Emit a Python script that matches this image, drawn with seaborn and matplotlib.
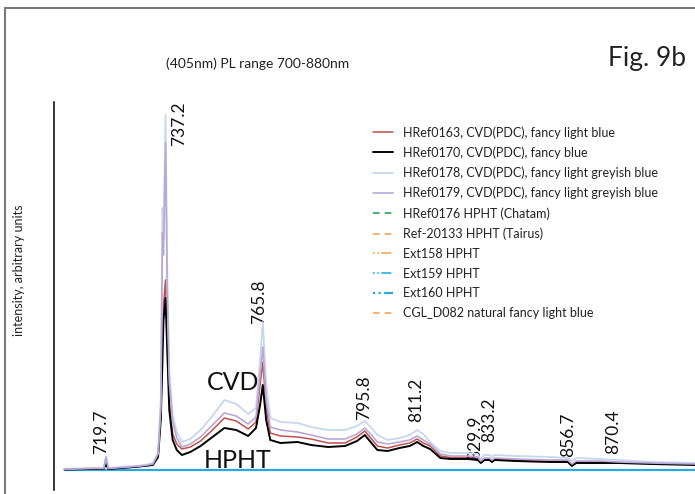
import matplotlib
matplotlib.use("Agg")
import matplotlib.pyplot as plt
import seaborn as sns
from matplotlib.lines import Line2D

# ---------------- data ----------------
wavelength_nm = [707.5, 716.0, 719.0, 719.7, 720.4, 724.0, 728.0, 731.0, 733.5, 735.0,
                 735.8, 736.3, 736.6, 737.2, 737.7, 738.3, 739.3, 740.5, 742.0, 744.5,
                 747.5, 751.0, 754.5, 758.0, 761.5, 763.8, 765.0, 765.8, 766.8, 768.0,
                 771.0, 776.0, 780.0, 785.0, 790.0, 793.5, 795.8, 797.5, 799.5, 802.5,
                 806.0, 809.0, 811.2, 813.0, 815.0, 818.0, 821.0, 826.0, 829.0, 829.9,
                 831.0, 832.5, 833.2, 834.0, 840.0, 850.0, 855.5, 856.7, 858.0, 865.0,
                 870.4, 880.0, 893.0]

href0163 = [1, 1, 1, 8, 1, 2, 3, 4, 5.5, 14,
            55, 130, 165, 190, 130, 68, 36, 26, 21, 23,
            29, 40, 52, 49, 41, 48, 85, 108, 62, 37,
            34, 33, 31, 27, 27, 33, 39, 32, 24, 22,
            25, 27, 31, 27, 24, 14, 12.5, 12.5, 11.5, 8,
            11, 11, 9, 11, 10, 9, 9, 5, 8, 8,
            7.5, 6.5, 5.5]

href0170 = [0.5, 1, 1, 6, 1, 2, 3, 4, 5, 13,
            50, 110, 150, 172, 120, 60, 30, 20, 15, 18,
            24, 33, 42, 40, 34, 42, 65, 85, 50, 30,
            27, 28, 25, 23, 24, 29, 35, 28, 20, 19,
            22, 24, 28, 24, 21, 12, 11, 11, 10, 7,
            10, 10, 8, 10, 9, 8, 8, 4, 7, 7,
            7, 6, 5]

href0178 = [1, 2, 2, 13, 2, 3, 4, 5, 7, 17,
            70, 262, 230, 355, 200, 100, 55, 38, 28, 31,
            40, 54, 70, 66, 56, 62, 110, 148, 85, 52,
            48, 47, 43, 40, 40, 44, 49, 43, 35, 30,
            32, 35, 40, 36, 28, 19, 17, 17, 16, 11,
            15, 15, 13, 15, 14, 13, 12, 9, 12, 11,
            10, 8, 7]

href0179 = [1, 1.5, 1.5, 13, 1.5, 2.5, 3.5, 4.5, 6, 16,
            62, 237, 215, 327, 180, 88, 48, 32, 23, 26,
            33, 45, 57, 54, 46, 53, 95, 123, 70, 43,
            40, 38, 35, 31, 31, 36, 42, 36, 28, 26,
            28, 30, 34, 30, 26, 16, 14, 14, 13, 9,
            12, 12, 10, 12, 11, 10, 10, 6, 9, 9,
            8, 7, 6]

hpht_nm = [707.5, 893.0]
href0176 = [0.0, 0.0]
ref20133 = [0.0, 0.0]
ext158 = [0.0, 0.0]
ext159 = [0.0, 0.0]
ext160 = [0.0, 0.0]
cgl_d082 = [0.0, 0.0]

series_labels = ["HRef0163, CVD(PDC), fancy light blue",
                 "HRef0170, CVD(PDC), fancy blue",
                 "HRef0178, CVD(PDC), fancy light greyish blue",
                 "HRef0179, CVD(PDC), fancy light greyish blue",
                 "HRef0176 HPHT (Chatam)",
                 "Ref-20133 HPHT (Tairus)",
                 "Ext158 HPHT",
                 "Ext159 HPHT",
                 "Ext160 HPHT",
                 "CGL_D082 natural fancy light blue"]

peak_labels = ["719.7", "737.2", "765.8", "795.8", "811.2",
               "829.9", "833.2", "856.7", "870.4"]

# ---------------- figure ----------------
sns.set_theme(style="white")
plt.rcParams['font.family'] = ['Lato', 'DejaVu Sans']

W, H = 695, 494
fig = plt.figure(figsize=(W / 100, H / 100), dpi=100)
ax = fig.add_axes([54 / W, 1 - 490 / H, 1 - 54 / W, (490 - 102) / H])

cvd = [(href0163, "#c0504d", 1.1),
       (href0170, "#000000", 1.4),
       (href0178, "#c6d7ee", 1.3),
       (href0179, "#b9a8d4", 1.2)]
for i, (vals, col, lw) in enumerate(cvd):
    sns.lineplot(x=wavelength_nm, y=vals, color=col, lw=lw, ax=ax,
                 label=series_labels[i], zorder=3 + i)

dashdot = (0, (1, 1.5, 1, 1.5, 6, 1.5))
hpht = [(href0176, "#27a35a", (0, (4, 3)), 1.2, 2),
        (ref20133, "#f6a35b", (0, (4, 3)), 1.2, 2),
        (ext158, "#f6a35b", dashdot, 1.2, 2),
        (ext159, "#22b3e8", dashdot, 1.2, 2.5),
        (ext160, "#2aa8de", "-", 1.6, 2.6),
        (cgl_d082, "#f6a35b", (0, (4, 3)), 1.2, 1.5)]
for j, (vals, col, ls, lw, z) in enumerate(hpht):
    sns.lineplot(x=hpht_nm, y=vals, color=col, lw=lw, ax=ax,
                 label=series_labels[4 + j], zorder=z, linestyle=ls)

ax.set_xlim(704.4, 892.9)
ax.set_ylim(-20, 368)
ax.set_xticks([])
ax.set_yticks([])
ax.set_xlabel("")
ax.set_ylabel("")
for s in ["top", "right", "bottom"]:
    ax.spines[s].set_visible(False)
ax.spines["left"].set_color("black")
ax.spines["left"].set_linewidth(1.1)
ax.patch.set_alpha(0)

# legend
handles, labels = ax.get_legend_handles_labels()
leg = ax.legend(handles, labels, loc="upper left",
                bbox_to_anchor=(373 / W, 1 - 126 / H),
                bbox_transform=fig.transFigure, frameon=False,
                fontsize=9, handlelength=1.6, handletextpad=0.8,
                labelspacing=0.62, borderpad=0, borderaxespad=0)
for t in leg.get_texts():
    t.set_color("#222222")
leg.legend_handles[8].set_linestyle(dashdot)

# peak annotations (rotated)
label_pos = [(718.4, 38), (741.3, 346), (764.6, 168), (795.6, 72), (811.0, 70),
             (828.3, 32), (832.4, 50), (855.7, 35), (868.8, 38)]
for txt, (px, py) in zip(peak_labels, label_pos):
    ax.text(px, py, txt, rotation=90, ha="center", va="center",
            fontsize=12.5, color="#111111")

ax.text(757.0, 80, "CVD", fontsize=18, ha="center", va="baseline", color="#111111")
ax.text(758.4, 2, "HPHT", fontsize=18, ha="center", va="baseline", color="#111111",
        zorder=1)

# titles / labels
fig.text(258 / W, 1 - 68 / H, "(405nm) PL range 700-880nm", fontsize=10,
         ha="center", va="baseline", color="#222222")
fig.text(647 / W, 1 - 66 / H, "Fig. 9b", fontsize=19, ha="center",
         va="baseline", color="#222222")
fig.text(19 / W, 1 - 270 / H, "intensity, arbitrary units", rotation=90,
         fontsize=9, ha="center", va="center", color="#222222")

# outer frame
fig.add_artist(Line2D([5 / W, 5 / W], [0, 1 - 8 / H], transform=fig.transFigure,
                      color="#7a7a7a", lw=1.5))
fig.add_artist(Line2D([5 / W, 1], [1 - 8 / H, 1 - 8 / H], transform=fig.transFigure,
                      color="#7a7a7a", lw=1.5))

fig.savefig("out.png", dpi=100)
